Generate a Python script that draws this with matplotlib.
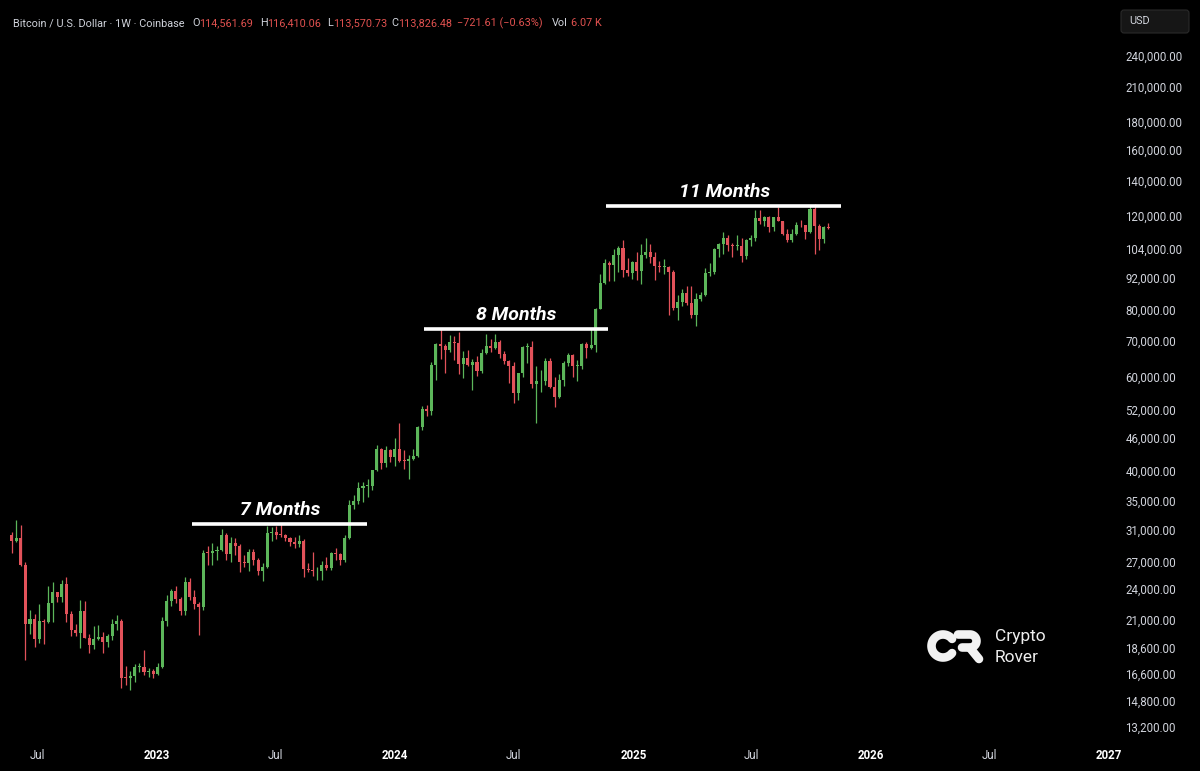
import numpy as np
import pandas as pd
import matplotlib
matplotlib.use("Agg")
import matplotlib.pyplot as plt
import matplotlib.dates as mdates
from matplotlib.ticker import FixedLocator, NullLocator, FuncFormatter
from matplotlib.patches import FancyBboxPatch

# weekly BTC candles, first week starts 2022-05-23
first_week = "2022-05-23"
first_open = 30290
closes = [29440, 29900, 26580, 20550, 21030, 19300, 20830, 20800, 22580, 23650,
          23175, 24440, 21530, 20040, 19830, 21800, 19420, 18800, 19310, 19440,
          19070, 19570, 20600, 20900, 16330, 16280, 16450, 17090, 17100, 16750,
          16840, 16610,
          17130, 20880, 22700, 23740, 22930, 21800, 24640, 23160, 22430, 22160,
          28040, 27990, 28170, 28330, 30300, 27820, 29250, 28850, 26920, 26850,
          28080, 27120, 25850, 26340, 30530, 30620, 30290, 30250, 29860, 29300,
          29040, 29420, 26100, 26010, 25840, 25840, 26530, 26250, 27970, 27920,
          27150, 29900, 34500, 35040, 37050, 37380, 37450, 39970, 43780, 41370,
          43720, 42280,
          43950, 41730, 41580, 42030, 42580, 48300, 52130, 51730, 63120, 68950,
          68390, 67210, 69630, 69360, 63430, 64940, 63120, 63900, 61480, 66270,
          68520, 67760, 69650, 66200, 64250, 62700, 55850, 60800, 68150, 68250,
          58160, 58720, 58950, 64170, 57300, 54900, 59100, 63600, 65800, 62800,
          62850, 69000, 67980, 68750, 80400, 89900, 97900, 97300, 101200, 104500,
          95200, 93700, 98360,
          94500, 101300, 102600, 100600, 96500, 96100, 96300, 94200, 80700, 82600,
          86100, 82400, 78400, 83800, 85300, 94000, 94300, 104000, 106500, 109000,
          105700, 105600, 105600, 100900, 108400, 109200, 119100, 117300, 119400, 114200,
          119300, 117400, 111000, 108200, 111100, 115300, 115200, 112200, 123500, 115100,
          108600, 114562, 113826]
highs = [30620, 32220, 31600, 26880, 21860, 21540, 22500, 21000, 24280, 24670,
         23650, 24900, 25200, 21800, 20560, 22800, 22700, 19700, 20400, 20480,
         19900, 19690, 21080, 21450, 21060, 17200, 16800, 17320, 17400, 18400,
         17050, 16950,
         17400, 21250, 23370, 23950, 24250, 23160, 25250, 25100, 23880, 22600,
         28400, 28900, 29180, 28800, 31000, 30500, 30000, 29850, 29100, 27700,
         28450, 28440, 27400, 26800, 31400, 31250, 31380, 31800, 30350, 29990,
         30000, 30250, 29680, 26800, 28150, 26400, 27000, 27450, 28050, 28550,
         27990, 30300, 35200, 35950, 37970, 37990, 38450, 40000, 44700, 44000,
         44400, 43800,
         45900, 49000, 43600, 42800, 43880, 48500, 52800, 52950, 64000, 69200,
         73800, 68900, 71800, 71350, 72800, 66900, 67200, 64700, 65500, 67700,
         71950, 70600, 71950, 70200, 66900, 64500, 63800, 61000, 68400, 69400,
         70000, 62700, 61800, 65000, 64900, 59800, 60600, 64100, 66500, 66000,
         64500, 69400, 69500, 73600, 80500, 93400, 99600, 98900, 104000, 105200,
         108300, 99900, 99000,
         102700, 106400, 109300, 106400, 102500, 98800, 99500, 96500, 95000, 85300,
         87450, 88800, 88500, 86000, 86500, 95800, 97900, 104300, 106700, 111900,
         110400, 106800, 110600, 108900, 108500, 110500, 123200, 123200, 120200, 119800,
         119300, 124500, 117600, 113300, 113400, 116800, 117900, 115400, 125100, 126200,
         115900, 114900, 116410]
lows = [28020, 29300, 26500, 17600, 19700, 18630, 19000, 18900, 20700, 20730,
        22650, 22660, 20790, 19550, 19550, 18540, 19380, 18200, 18500, 19200,
        18190, 18650, 19240, 20050, 15600, 15800, 15500, 16000, 16750, 16550,
        16400, 16330,
        16550, 17000, 20400, 22300, 22550, 21400, 21400, 22800, 21950, 19600,
        21900, 26600, 26570, 27200, 28200, 27150, 26950, 27700, 25800, 26350,
        25880, 26600, 25400, 24800, 26250, 29500, 29700, 29950, 29500, 28900,
        28600, 28750, 25200, 25800, 25350, 24900, 24930, 26000, 26000, 27200,
        26550, 26950, 29700, 33900, 34600, 34900, 35650, 36700, 39900, 40200,
        40600, 41500,
        40750, 41500, 40300, 38550, 41850, 42300, 47700, 50650, 50900, 59000,
        64600, 60800, 66600, 64500, 60700, 59700, 62800, 56550, 60200, 60800,
        66100, 66700, 67500, 65100, 63400, 58400, 53500, 54300, 59800, 63500,
        57200, 49000, 56100, 57900, 57200, 52600, 54600, 57600, 62700, 59800,
        58900, 62000, 65100, 67500, 66800, 80200, 89300, 90800, 90500, 94200,
        92200, 92600, 91300,
        91200, 89300, 100100, 97800, 91200, 94100, 93400, 78200, 80000, 76600,
        81200, 81600, 77100, 74500, 83000, 85100, 92800, 93400, 100700, 102000,
        103100, 100400, 103400, 98200, 99600, 105200, 107500, 115700, 114700, 112000,
        112700, 117200, 110700, 107300, 107300, 110600, 114500, 108700, 111600, 102000,
        103600, 106700, 113571]

opens = [first_open] + closes[:-1]
weeks = pd.date_range(first_week, periods=len(closes), freq="W-MON")

# range annotations
range_labels = ["7 Months", "8 Months", "11 Months"]
range_start = ["2023-02-23", "2024-02-15", "2024-11-20"]
range_end = ["2023-11-19", "2024-11-23", "2025-11-15"]
range_level = [31720, 73650, 125300]
label_date = ["2023-07-09", "2024-07-05", "2025-05-21"]
label_level = [33700, 78300, 133300]

price_ticks = [240000, 210000, 180000, 160000, 140000, 120000, 104000, 92000,
               80000, 70000, 60000, 52000, 46000, 40000, 35000, 31000, 27000,
               24000, 21000, 18600, 16600, 14800, 13200]
date_ticks = ["2022-07-01", "2023-01-01", "2023-07-01", "2024-01-01", "2024-07-01",
              "2025-01-01", "2025-07-01", "2026-01-01", "2026-07-01", "2027-01-01"]

GREEN = "#5cb65a"
RED = "#e2525a"
BG = "#000000"
TXT = "#d1d4dc"

plt.rcParams["font.family"] = ["Roboto", "DejaVu Sans"]

fig = plt.figure(figsize=(12, 7.71), dpi=100, facecolor=BG)
ax = fig.add_axes([0, 26 / 771, 1115 / 1200, 1 - 26 / 771])
ax.set_facecolor(BG)

x = mdates.date2num(weeks)
o = np.array(opens, dtype=float)
c = np.array(closes, dtype=float)
h = np.array(highs, dtype=float)
l = np.array(lows, dtype=float)
up = c >= o
cols = np.where(up, GREEN, RED)

ax.vlines(x, l, h, colors=cols, linewidth=0.9, zorder=2)
body_lo = np.minimum(o, c)
body_hi = np.maximum(np.maximum(o, c), body_lo * 1.004)
ax.bar(x, body_hi - body_lo, bottom=body_lo, width=4.7, color=cols,
       linewidth=0, zorder=3)

for lab, s, e, lev, ld, ll in zip(range_labels, range_start, range_end,
                                  range_level, label_date, label_level):
    ax.hlines(lev, mdates.datestr2num(s), mdates.datestr2num(e), color="white",
              linewidth=2.6, zorder=4)
    ax.text(mdates.datestr2num(ld), ll, lab, color="white", fontsize=14,
            fontweight="bold", fontstyle="italic", ha="center", va="center", zorder=5)

ax.set_yscale("log")
ax.set_ylim(12210, 305100)
ax.set_xlim(mdates.datestr2num("2022-05-05"), mdates.datestr2num("2027-01-10"))

ax.yaxis.tick_right()
ax.yaxis.set_major_locator(FixedLocator(price_ticks))
ax.yaxis.set_minor_locator(NullLocator())
ax.yaxis.set_major_formatter(FuncFormatter(lambda v, p: f"{v:,.2f}"))
ax.tick_params(axis="y", length=0, pad=7.5, labelsize=8.3, labelcolor=TXT)

xt = [mdates.datestr2num(d) for d in date_ticks]
ax.set_xticks(xt)
ax.set_xticklabels(["Jul" if d[5:7] == "07" else d[:4] for d in date_ticks])
ax.xaxis.set_minor_locator(NullLocator())
ax.tick_params(axis="x", length=0, pad=3, labelsize=8.3, labelcolor=TXT)
for t, d in zip(ax.get_xticklabels(), date_ticks):
    if d[5:7] == "01":
        t.set_fontweight("bold")
        t.set_color("white")

for sp in ax.spines.values():
    sp.set_visible(False)

# overlay in pixel coordinates for header, currency box and logo
ov = fig.add_axes([0, 0, 1, 1])
ov.set_xlim(0, 1200)
ov.set_ylim(771, 0)
ov.axis("off")

hy = 23.5
ov.text(13, hy, "Bitcoin / U.S. Dollar · 1W · Coinbase", color=TXT, fontsize=7.8, va="center")
for key, kx, val, vx in [("O", 192, "114,561.69", 199), ("H", 260, "116,410.06", 267),
                         ("L", 327, "113,570.73", 333), ("C", 391, "113,826.48", 398),
                         ("Vol", 552, "6.07 K", 571)]:
    ov.text(kx, hy, key, color=TXT, fontsize=7.8, va="center")
    ov.text(vx, hy, val, color="#e0514f", fontsize=7.8, va="center")
ov.text(457, hy, "−721.61 (−0.63%)", color="#e0514f", fontsize=7.8, va="center")

ov.add_patch(FancyBboxPatch((1121, 10), 68, 23, boxstyle="round,pad=0,rounding_size=3",
                            facecolor="#161616", edgecolor="#2a2a2a", linewidth=0.8))
ov.text(1129, 21.5, "USD", color=TXT, fontsize=7.8, va="center")

# Crypto Rover logo
lw = 6.2
th = np.radians(np.linspace(38, 322, 60))
ov.plot(943 + 11.5 * np.cos(th), 646 - 11.5 * np.sin(th), color="#f2f2f2",
        linewidth=lw, solid_capstyle="round")
ang = np.radians(np.linspace(90, -90, 30))
rx = np.concatenate([[958, 970], 970 + 6.5 * np.cos(ang), [962]])
ry = np.concatenate([[634.5, 634.5], 641 - 6.5 * np.sin(ang), [647.5]])
ov.plot(rx, ry, color="#f2f2f2", linewidth=lw, solid_capstyle="round",
        solid_joinstyle="round")
ov.plot([970, 979], [648, 659], color="#f2f2f2", linewidth=lw, solid_capstyle="round")
ov.text(995, 636, "Crypto", color="#eeeeee", fontsize=12.5, va="center")
ov.text(995, 657, "Rover", color="#eeeeee", fontsize=12.5, va="center")

fig.savefig("out.png", dpi=100, facecolor=BG)
